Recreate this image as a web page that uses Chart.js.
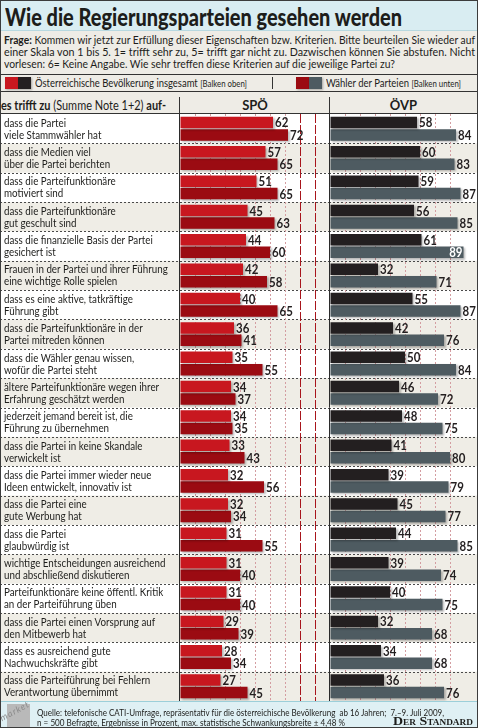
<!DOCTYPE html>
<html lang="de">
<head>
  <meta charset="UTF-8">
  <meta name="viewport" content="width=device-width, initial-scale=1.0">
  <title>Wie die Regierungsparteien gesehen werden</title>
  <script src="https://cdn.jsdelivr.net/npm/chart.js"></script>
  <style>
    body {
      margin: 0;
      background: #ffffff;
      font-family: Lato, "DejaVu Sans Condensed", sans-serif;
      color: #1d1d1b;
    }
    #graphic {
      position: relative;
      width: 478px;
      height: 728px;
      overflow: hidden;
      background: #eeece6;
    }
    .abs { position: absolute; }
    .fit { white-space: nowrap; transform-origin: left top; }
    #frame {
      left: 0; top: 0; width: 478px; height: 728px;
      box-sizing: border-box;
      border: 1px solid #3c3c3c;
      pointer-events: none;
    }
    #titlebar {
      left: 0; top: 0; width: 478px; height: 31px;
      background: #d9edf2;
      border-bottom: 1px solid #b7d8e0;
      box-sizing: border-box;
    }
    #title {
      left: 5px; top: 5px;
      font-size: 24px;
      line-height: 24px;
      font-weight: 900;
    }
    .qline { left: 4px; font-size: 11.5px; line-height: 12px; }
    .hline { height: 1px; background: #333; }
    .vline { width: 1px; background: #333; }
    .swatch { width: 13px; height: 12px; box-shadow: 1px 1px 2px rgba(0,0,0,0.3); }
    .legtext { font-size: 11.5px; line-height: 12px; }
    .legtext small { font-size: 9.5px; }
    .colhead { font-size: 12.5px; line-height: 13px; }
    .party { font-size: 13px; line-height: 13px; font-weight: bold; text-align: center; }
    #footer {
      left: 0; top: 701px; width: 478px; height: 27px;
      background: #dff0f4;
      border-top: 1px solid #9ccfd9;
      box-sizing: border-box;
    }
    .src { font-size: 9px; line-height: 9.5px; }
    #standard {
      left: 393px; top: 716px;
      font-family: "Liberation Serif", "DejaVu Serif", serif;
      font-weight: bold;
      font-variant: small-caps;
      font-size: 12px;
      line-height: 11px;
    }
    #logo { left: 7px; top: 704px; width: 23px; height: 24px; background: #b9b9b9; }
    #logotext {
      left: 3px; top: 712px;
      font-size: 9px; font-style: italic; color: #8c8c8c;
      letter-spacing: 1px;
      transform: rotate(-28deg);
      transform-origin: left bottom;
    }
  </style>
</head>
<body>
<div id="graphic">
  <div id="titlebar" class="abs"></div>
  <div id="title" class="abs fit" data-w="397">Wie die Regierungsparteien gesehen werden</div>

  <div class="abs qline fit" data-w="471" style="top:34px"><b>Frage:</b> Kommen wir jetzt zur Erfüllung dieser Eigenschaften bzw. Kriterien. Bitte beurteilen Sie wieder auf</div>
  <div class="abs qline fit" data-w="471" style="top:46px">einer Skala von 1 bis 5. 1= trifft sehr zu, 5= trifft gar nicht zu. Dazwischen können Sie abstufen. Nicht</div>
  <div class="abs qline fit" data-w="391" style="top:58px">vorlesen: 6= Keine Angabe. Wie sehr treffen diese Kriterien auf die jeweilige Partei zu?</div>

  <div class="abs hline" style="left:0;top:74px;width:478px"></div>
  <div class="abs swatch" style="left:5px;top:77px;background:#c8171f"></div>
  <div class="abs swatch" style="left:18px;top:77px;background:#231f20"></div>
  <div class="abs legtext fit" data-w="212" style="left:35px;top:77px">Österreichische Bevölkerung insgesamt <small>[Balken oben]</small></div>
  <div class="abs vline" style="left:272px;top:77px;height:12px"></div>
  <div class="abs swatch" style="left:296px;top:77px;background:#9b0b12"></div>
  <div class="abs swatch" style="left:309px;top:77px;background:#4e5b61"></div>
  <div class="abs legtext fit" data-w="135" style="left:326px;top:77px">Wähler der Parteien <small>[Balken unten]</small></div>
  <div class="abs hline" style="left:0;top:91px;width:478px"></div>

  <div class="abs colhead fit" data-w="165" style="left:1px;top:99px"><b>es trifft zu</b> (Summe Note 1+2) <b>auf-</b></div>
  <div class="abs party" style="left:180px;top:99px;width:150px">SPÖ</div>
  <div class="abs party" style="left:330px;top:99px;width:147px">ÖVP</div>
  <div class="abs vline" style="left:179px;top:97px;height:17px"></div>
  <div class="abs vline" style="left:329px;top:97px;height:17px"></div>
  <div class="abs hline" style="left:0;top:113px;width:478px"></div>

  <div class="abs" style="left:0;top:114px;width:330px;height:587px"><canvas id="spoChart"></canvas></div>
  <div class="abs" style="left:329px;top:114px;width:149px;height:587px"><canvas id="oevpChart"></canvas></div>

  <div id="footer" class="abs"></div>
  <div id="logo" class="abs"></div>
  <div id="logotext" class="abs">market</div>
  <div class="abs src fit" data-w="407" style="left:37px;top:708px">Quelle: telefonische CATI-Umfrage, repräsentativ für die österreichische Bevölkerung&nbsp; ab 16 Jahren;&nbsp; 7.–9. Juli 2009,</div>
  <div class="abs src fit" data-w="308" style="left:37px;top:717.5px">n = 500 Befragte, Ergebnisse in Prozent, max. statistische Schwankungsbreite ± 4,48 %</div>
  <div id="standard" class="abs fit" data-w="80">Der Standard</div>

  <div id="frame" class="abs"></div>
</div>

<script>
  const FONT = 'Lato, "DejaVu Sans Condensed", sans-serif';

  // Kriterien (zweizeilig wie in der Grafik)
  const categories = [
    ['dass die Partei', 'viele Stammwähler hat'],
    ['dass die Medien viel', 'über die Partei berichten'],
    ['dass die Parteifunktionäre', 'motiviert sind'],
    ['dass die Parteifunktionäre', 'gut geschult sind'],
    ['dass die finanzielle Basis der Partei', 'gesichert ist'],
    ['Frauen in der Partei und ihrer Führung', 'eine wichtige Rolle spielen'],
    ['dass es eine aktive, tatkräftige', 'Führung gibt'],
    ['dass die Parteifunktionäre in der', 'Partei mitreden können'],
    ['dass die Wähler genau wissen,', 'wofür die Partei steht'],
    ['ältere Parteifunktionäre wegen ihrer', 'Erfahrung geschätzt werden'],
    ['jederzeit jemand bereit ist, die', 'Führung zu übernehmen'],
    ['dass die Partei in keine Skandale', 'verwickelt ist'],
    ['dass die Partei immer wieder neue', 'Ideen entwickelt, innovativ ist'],
    ['dass die Partei eine', 'gute Werbung hat'],
    ['dass die Partei', 'glaubwürdig ist'],
    ['wichtige Entscheidungen ausreichend', 'und abschließend diskutieren'],
    ['Parteifunktionäre keine öffentl. Kritik', 'an der Parteiführung üben'],
    ['dass die Partei einen Vorsprung auf', 'den Mitbewerb hat'],
    ['dass es ausreichend gute', 'Nachwuchskräfte gibt'],
    ['dass die Parteiführung bei Fehlern', 'Verantwortung übernimmt']
  ];

  // Werte in Prozent
  const spoBevoelkerung  = [62, 57, 51, 45, 44, 42, 40, 36, 35, 34, 34, 33, 32, 32, 31, 31, 31, 29, 28, 27];
  const spoWaehler       = [72, 65, 65, 63, 60, 58, 65, 41, 55, 37, 35, 43, 56, 34, 55, 40, 40, 39, 34, 45];
  const oevpBevoelkerung = [58, 60, 59, 56, 61, 32, 55, 42, 50, 46, 48, 41, 39, 45, 44, 39, 40, 32, 34, 36];
  const oevpWaehler      = [84, 83, 87, 85, 89, 71, 87, 76, 84, 72, 75, 80, 79, 77, 85, 74, 75, 68, 68, 76];

  const BEIGE = '#efede6';

  // squeeze the html text lines to the widths measured in the original
  document.querySelectorAll('.fit').forEach(el => {
    const w = el.getBoundingClientRect().width;
    el.style.transform = (el.style.transform || '') + ' scaleX(' + (el.dataset.w / w) + ')';
  });

  // alternating row bands, dotted row separators and the zero axis line
  const rowBands = {
    id: 'rowBands',
    beforeDraw(chart) {
      const { ctx, chartArea } = chart;
      const y = chart.scales.y;
      const step = y.getPixelForValue(1) - y.getPixelForValue(0);
      ctx.save();
      ctx.fillStyle = '#ffffff';
      ctx.fillRect(0, chartArea.top, chart.width, chartArea.bottom - chartArea.top);
      ctx.fillStyle = BEIGE;
      categories.forEach((c, i) => {
        if (i % 2 === 1) {
          const mid = y.getPixelForValue(i);
          ctx.fillRect(0, mid - step / 2, chart.width, step);
        }
      });
      ctx.strokeStyle = '#4a4a4a';
      ctx.lineWidth = 1;
      ctx.setLineDash([2, 2]);
      for (let i = 1; i < categories.length; i++) {
        const yy = Math.round(y.getPixelForValue(i) - step / 2) + 0.5;
        ctx.beginPath();
        ctx.moveTo(0, yy);
        ctx.lineTo(chart.width, yy);
        ctx.stroke();
      }
      ctx.restore();
    },
    beforeDatasetsDraw(chart) {
      const { ctx, chartArea } = chart;
      const x0 = Math.round(chart.scales.x.getPixelForValue(0)) - 0.5;
      ctx.save();
      ctx.strokeStyle = '#2b2b2b';
      ctx.lineWidth = 1;
      ctx.beginPath();
      ctx.moveTo(x0, chartArea.top);
      ctx.lineTo(x0, chartArea.bottom);
      ctx.stroke();
      ctx.restore();
    }
  };

  // row labels, placed at the category positions of the y scale
  const rowLabels = {
    id: 'rowLabels',
    afterDraw(chart) {
      const ctx = chart.ctx;
      const y = chart.scales.y;
      ctx.save();
      ctx.font = '11px ' + FONT;
      ctx.fillStyle = '#1d1d1b';
      ctx.textAlign = 'left';
      ctx.textBaseline = 'middle';
      chart.data.labels.forEach((lines, i) => {
        const mid = y.getPixelForValue(i);
        lines.forEach((line, k) => {
          ctx.save();
          ctx.translate(4, mid + 0.5 + (k - (lines.length - 1) / 2) * 12);
          ctx.scale(0.89, 1);
          ctx.fillText(line, 0, 0);
          ctx.restore();
        });
      });
      ctx.restore();
    }
  };

  const barShadow = {
    id: 'barShadow',
    beforeDatasetsDraw(chart) {
      const ctx = chart.ctx;
      ctx.save();
      ctx.shadowColor = 'rgba(0,0,0,0.28)';
      ctx.shadowBlur = 2;
      ctx.shadowOffsetX = 1.5;
      ctx.shadowOffsetY = 1.5;
    },
    afterDatasetsDraw(chart) {
      chart.ctx.restore();
    }
  };

  // value at the end of each bar; when there is no room left it goes inside in white
  const valueLabels = {
    id: 'valueLabels',
    afterDatasetsDraw(chart) {
      const ctx = chart.ctx;
      const sx = 0.82;
      ctx.save();
      ctx.font = 'bold 14px ' + FONT;
      ctx.textBaseline = 'middle';
      chart.data.datasets.forEach((ds, di) => {
        chart.getDatasetMeta(di).data.forEach((bar, i) => {
          const txt = String(ds.data[i]);
          const w = ctx.measureText(txt).width * sx;
          const inside = bar.x + 2 + w > chart.width - 2;
          ctx.save();
          ctx.translate(inside ? bar.x - 1 : bar.x + 2, bar.y + 0.5);
          ctx.scale(sx, 1);
          ctx.fillStyle = inside ? '#ffffff' : '#231f20';
          ctx.textAlign = inside ? 'right' : 'left';
          ctx.fillText(txt, 0, 0);
          ctx.restore();
        });
      });
      ctx.restore();
    }
  };

  function makePanel(canvasId, topValues, bottomValues, colors, maxValue, leftPad, redLines, extraPlugins) {
    new Chart(document.getElementById(canvasId), {
      type: 'bar',
      data: {
        labels: categories,
        datasets: [
          { data: topValues, backgroundColor: colors[0] },
          { data: bottomValues, backgroundColor: colors[1] }
        ]
      },
      options: {
        indexAxis: 'y',
        responsive: true,
        maintainAspectRatio: false,
        animation: false,
        categoryPercentage: 0.85,
        barPercentage: 0.92,
        layout: { padding: { left: leftPad, right: 0, top: 0, bottom: 0 } },
        plugins: {
          legend: { display: false },
          tooltip: { enabled: false }
        },
        scales: {
          x: {
            min: 0,
            max: maxValue,
            ticks: { display: false, stepSize: 10 },
            grid: {
              drawTicks: false,
              color: (ctx) => {
                const v = ctx.tick ? ctx.tick.value : 0;
                if (v <= 0 || v % 10 !== 0) return 'rgba(0,0,0,0)';
                if (redLines.includes(v)) return '#a8151c';
                return '#d49da1';
              },
              lineWidth: 1
            },
            border: {
              display: false,
              dash: (ctx) => (ctx.tick && redLines.includes(ctx.tick.value)) ? [9, 2] : [2, 2]
            }
          },
          y: { display: false }
        }
      },
      plugins: [rowBands, barShadow, valueLabels].concat(extraPlugins)
    });
  }

  makePanel('spoChart', spoBevoelkerung, spoWaehler, ['#c8171f', '#9b0b12'], 100, 180, [80, 90], [rowLabels]);
  makePanel('oevpChart', oevpBevoelkerung, oevpWaehler, ['#231f20', '#4e5b61'], 98.66, 1, [], []);
</script>
</body>
</html>
